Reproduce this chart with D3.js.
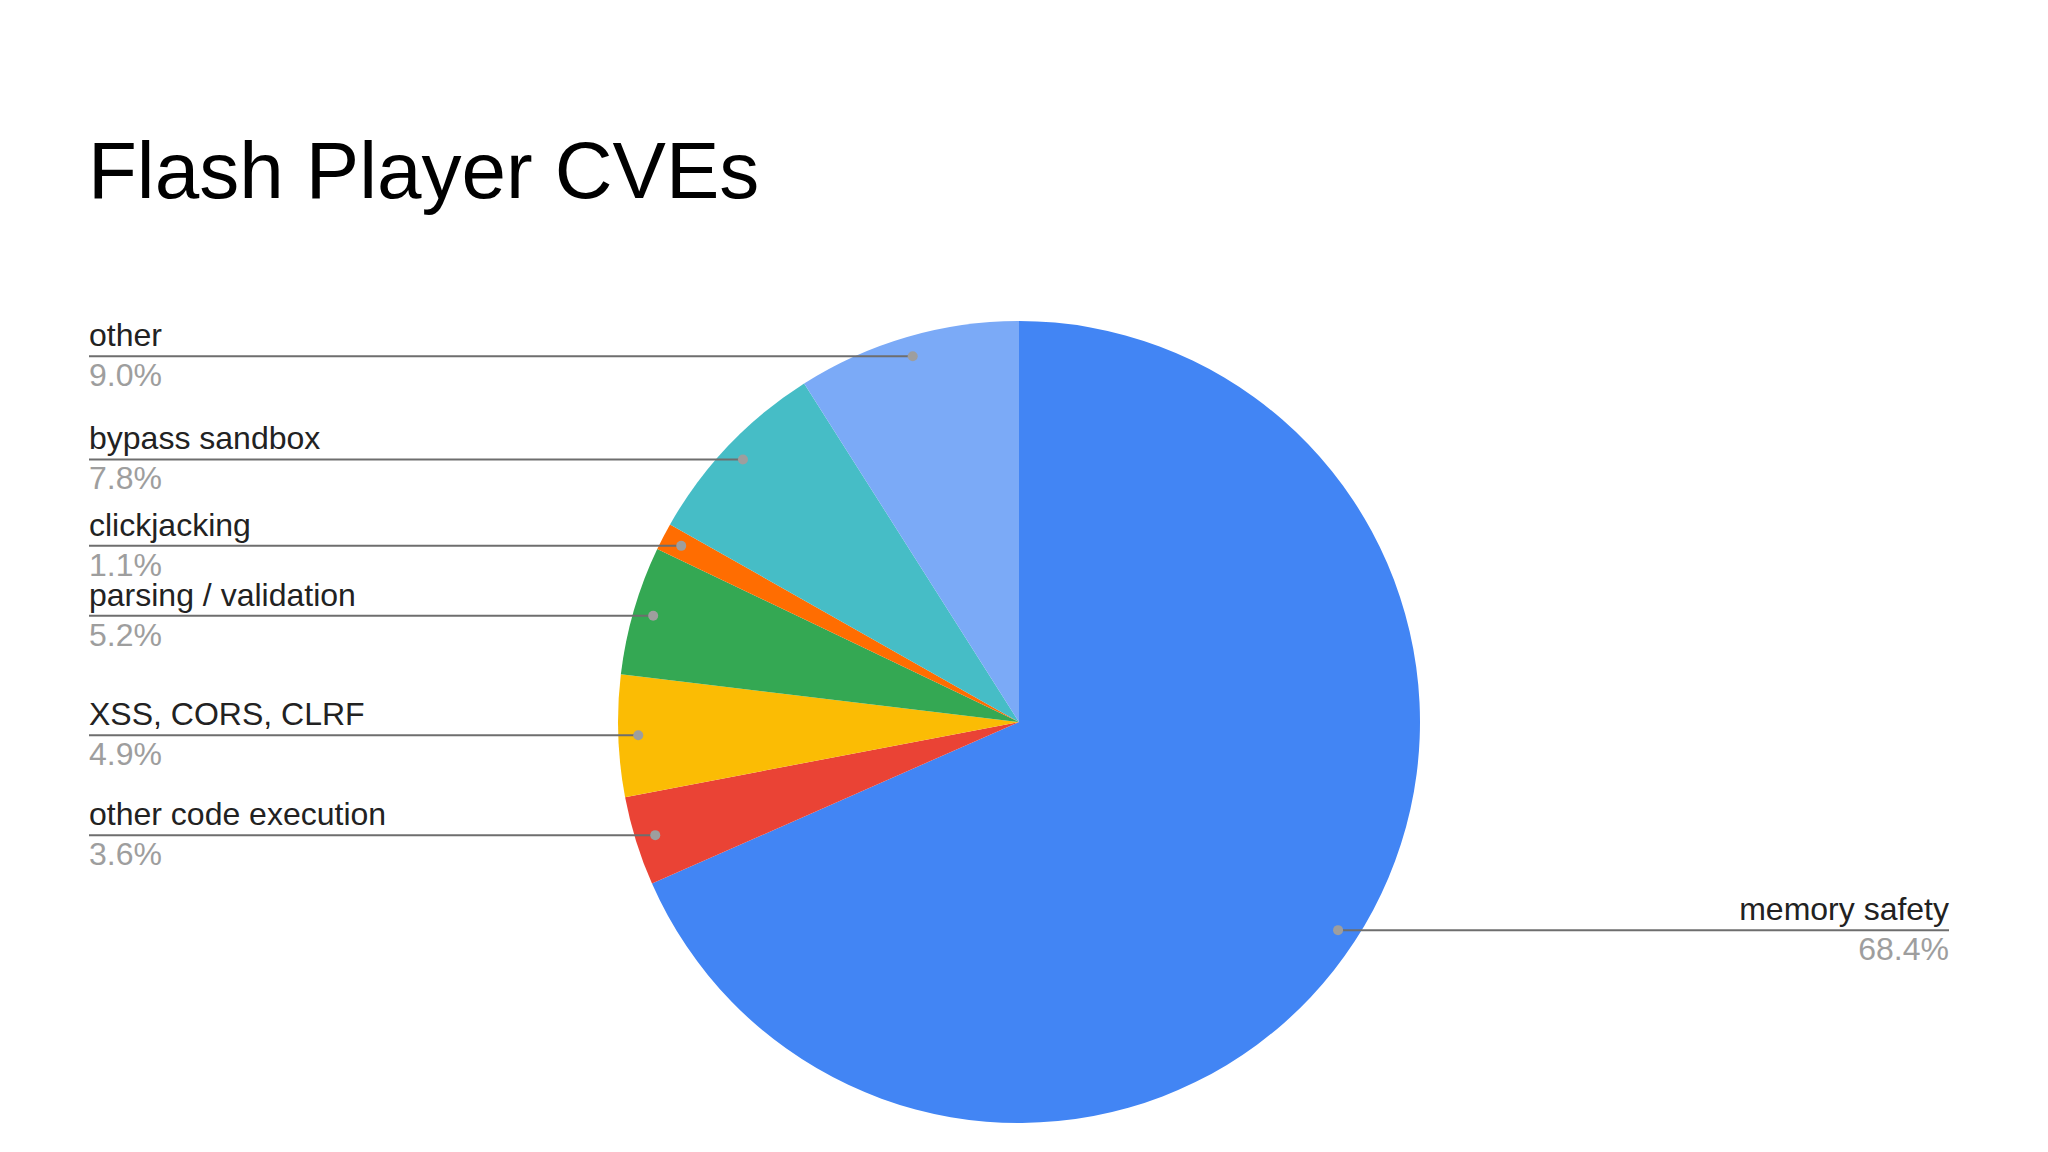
<!DOCTYPE html>
<html>
<head>
<meta charset="utf-8">
<script src="https://cdn.jsdelivr.net/npm/d3@7"></script>
<style>
  html, body { margin: 0; padding: 0; background: #fff; }
  svg { display: block; }
  text { font-family: Arial, "Liberation Sans", sans-serif; }
</style>
</head>
<body>
<div id="chart"></div>
<script>
// slices, clockwise from 12 o'clock
var categories = ["memory safety", "other code execution", "XSS, CORS, CLRF", "parsing / validation", "clickjacking", "bypass sandbox", "other"];
var percents = [68.4, 3.6, 4.9, 5.2, 1.1, 7.8, 9.0];
var sliceColors = ["#4285f4", "#ea4335", "#fbbc04", "#34a853", "#ff6d01", "#46bdc6", "#7baaf7"];

var width = 2048, height = 1152;
var cx = 1019, cy = 722, radius = 401;
var leftX = 89, rightX = 1949;

var svg = d3.select("#chart").append("svg")
    .attr("width", width).attr("height", height);

svg.append("text")
    .attr("x", 88).attr("y", 198)
    .attr("font-size", 80)
    .attr("fill", "#000")
    .text("Flash Player CVEs");

var data = categories.map(function(c, i) { return {name: c, value: percents[i], color: sliceColors[i]}; });

var pie = d3.pie().sort(null).value(function(d) { return d.value; });
var arc = d3.arc().innerRadius(0).outerRadius(radius);
var dotArc = d3.arc().innerRadius(radius * 0.95).outerRadius(radius * 0.95);

var g = svg.append("g").attr("transform", "translate(" + cx + "," + cy + ")");

var arcs = pie(data);

g.selectAll("path.slice")
    .data(arcs)
    .enter().append("path")
      .attr("class", "slice")
      .attr("d", arc)
      .attr("fill", function(d) { return d.data.color; });

// leader lines + labels
var labels = svg.append("g").attr("class", "labels");

arcs.forEach(function(d) {
    var p = dotArc.centroid(d);
    var dx = cx + p[0], dy = cy + p[1];
    var mid = (d.startAngle + d.endAngle) / 2;
    var left = mid > Math.PI;
    var endX = left ? leftX : rightX;
    var anchor = left ? "start" : "end";

    labels.append("line")
        .attr("x1", dx).attr("y1", dy)
        .attr("x2", endX).attr("y2", dy)
        .attr("stroke", "#6e6e6e")
        .attr("stroke-width", 2);

    labels.append("circle")
        .attr("cx", dx).attr("cy", dy).attr("r", 5)
        .attr("fill", "#9e9e9e");

    labels.append("text")
        .attr("x", endX).attr("y", dy - 10)
        .attr("text-anchor", anchor)
        .attr("font-size", 32)
        .attr("fill", "#222")
        .text(d.data.name);

    labels.append("text")
        .attr("x", endX).attr("y", dy + 30)
        .attr("text-anchor", anchor)
        .attr("font-size", 32)
        .attr("fill", "#9e9e9e")
        .text(d.data.value.toFixed(1) + "%");
});
</script>
</body>
</html>
